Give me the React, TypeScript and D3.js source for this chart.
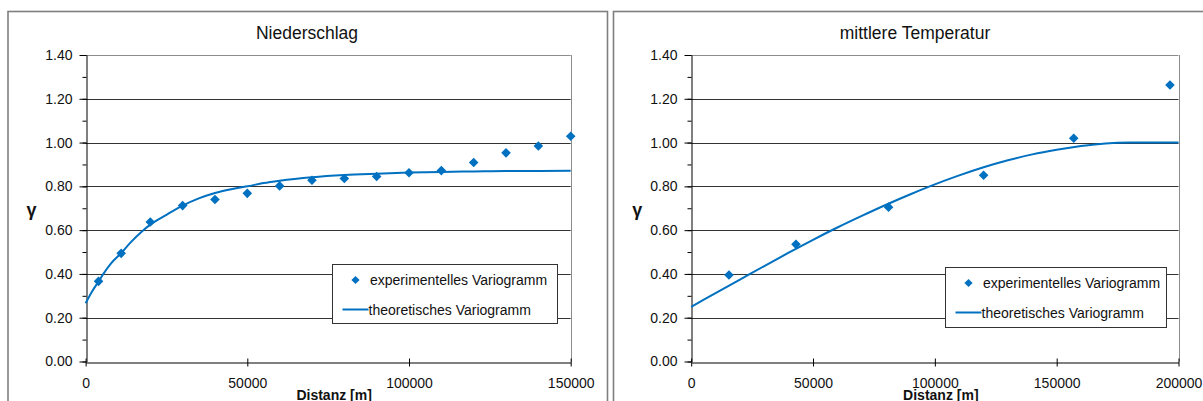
import { useEffect, useRef } from "react";
import * as d3 from "d3";

// Niederschlag (precipitation)
const niederschlagExpX = [
  4000, 11000, 20000, 30000, 40000, 50000, 60000, 70000, 80000, 90000, 100000,
  110000, 120000, 130000, 140000, 150000,
];
const niederschlagExpY = [
  0.366, 0.494, 0.637, 0.712, 0.74, 0.768, 0.802, 0.828, 0.836, 0.845, 0.862,
  0.872, 0.909, 0.953, 0.984, 1.029,
];
const niederschlagTheoX = [
  0, 2000, 4000, 5500, 8000, 11000, 14000, 17500, 20000, 25000, 30000, 35000,
  40000, 45000, 50000, 55000, 60000, 70000, 80000, 90000, 100000, 110000,
  120000, 130000, 140000, 150000,
];
const niederschlagTheoY = [
  0.266, 0.32, 0.365, 0.4, 0.45, 0.495, 0.545, 0.595, 0.625, 0.67, 0.712,
  0.745, 0.77, 0.787, 0.8, 0.815, 0.826, 0.842, 0.852, 0.858, 0.863, 0.866,
  0.868, 0.87, 0.87, 0.871,
];

// mittlere Temperatur (mean temperature)
const temperaturExpX = [15500, 43000, 81000, 120000, 157000, 196500];
const temperaturExpY = [0.395, 0.535, 0.705, 0.851, 1.02, 1.263];
const temperaturTheoX = [
  0, 10000, 20000, 30000, 40000, 50000, 60000, 70000, 80000, 90000, 100000,
  110000, 120000, 130000, 140000, 150000, 160000, 170000, 180000, 190000,
  200000,
];
const temperaturTheoY = [
  0.25, 0.312, 0.374, 0.436, 0.497, 0.556, 0.612, 0.665, 0.716, 0.764, 0.809,
  0.85, 0.887, 0.919, 0.946, 0.967, 0.984, 0.996, 1.0, 1.0, 1.0,
];

const yTicks = [0, 0.2, 0.4, 0.6, 0.8, 1.0, 1.2, 1.4];
const yMinorTicks = d3.range(0, 1.41, 0.1);

const FONT = "Arial, 'Liberation Sans', sans-serif";
const BLUE = "#0070c0";

interface PanelSpec {
  title: string;
  expX: number[];
  expY: number[];
  theoX: number[];
  theoY: number[];
  xMax: number;
  xTicks: number[];
  frameX: number;
  frameW: number;
  titleX: number;
  left: number;
  right: number;
  legend: { x: number; y: number; w: number; h: number };
}

const panels: PanelSpec[] = [
  {
    title: "Niederschlag",
    expX: niederschlagExpX,
    expY: niederschlagExpY,
    theoX: niederschlagTheoX,
    theoY: niederschlagTheoY,
    xMax: 150000,
    xTicks: [0, 50000, 100000, 150000],
    frameX: 8,
    frameW: 599.5,
    titleX: 307,
    left: 85.6,
    right: 570.7,
    legend: { x: 332.5, y: 264.5, w: 225, h: 59 },
  },
  {
    title: "mittlere Temperatur",
    expX: temperaturExpX,
    expY: temperaturExpY,
    theoX: temperaturTheoX,
    theoY: temperaturTheoY,
    xMax: 200000,
    xTicks: [0, 50000, 100000, 150000, 200000],
    frameX: 613.5,
    frameW: 700,
    titleX: 915,
    left: 691.2,
    right: 1178.5,
    legend: { x: 945.5, y: 267.5, w: 221, h: 60 },
  },
];

const TOP = 55;
const BOTTOM = 361.5;

export default function App() {
  const svgRef = useRef<SVGSVGElement>(null);

  useEffect(() => {
    if (!svgRef.current) return;
    const svg = d3.select(svgRef.current);
    svg.selectAll("*").remove();

    svg.append("rect").attr("width", 1203).attr("height", 401).attr("fill", "#fff");

    panels.forEach((p) => {
      const g = svg.append("g");

      // chart frame
      g.append("rect")
        .attr("x", p.frameX)
        .attr("y", 11.5)
        .attr("width", p.frameW)
        .attr("height", 500)
        .attr("fill", "none")
        .attr("stroke", "#7f7f7f")
        .attr("stroke-width", 1.6);

      const x = d3.scaleLinear().domain([0, p.xMax]).range([p.left, p.right]);
      const y = d3.scaleLinear().domain([0, 1.4]).range([BOTTOM, TOP]);

      // title
      g.append("text")
        .attr("x", p.titleX)
        .attr("y", 39)
        .attr("text-anchor", "middle")
        .attr("font-family", FONT)
        .attr("font-size", 17.5)
        .attr("fill", "#111")
        .text(p.title);

      // grid lines
      g.append("g")
        .selectAll("line")
        .data(yTicks.filter((t) => t > 0))
        .join("line")
        .attr("x1", p.left)
        .attr("x2", p.right)
        .attr("y1", (d) => Math.round(y(d)) + 0.5)
        .attr("y2", (d) => Math.round(y(d)) + 0.5)
        .attr("stroke", (d) => (d >= 1.4 ? "#8c8c8c" : "#333"))
        .attr("stroke-width", 1);

      // right border of plot area
      g.append("line")
        .attr("x1", Math.round(p.right) + 0.5)
        .attr("x2", Math.round(p.right) + 0.5)
        .attr("y1", TOP)
        .attr("y2", BOTTOM)
        .attr("stroke", "#8c8c8c");

      // minor y ticks
      g.append("g")
        .attr("transform", `translate(${Math.round(p.left) + 0.5},0)`)
        .call(d3.axisLeft(y).tickValues(yMinorTicks).tickSize(4).tickFormat(() => ""))
        .call((a) => a.select(".domain").remove())
        .call((a) => a.selectAll(".tick line").attr("stroke", "#000"));

      // y axis
      g.append("g")
        .attr("transform", `translate(${Math.round(p.left) + 0.5},0)`)
        .call(
          d3
            .axisLeft(y)
            .tickValues(yTicks)
            .tickSize(7)
            .tickSizeOuter(0)
            .tickPadding(7)
            .tickFormat((d) => d3.format(".2f")(d as number))
        )
        .call((a) => a.select(".domain").attr("stroke", "#000"))
        .call((a) => a.selectAll(".tick line").attr("stroke", "#000"))
        .call((a) =>
          a
            .selectAll(".tick text")
            .attr("font-family", FONT)
            .attr("font-size", 14)
            .attr("fill", "#111")
        );

      // x axis
      g.append("g")
        .attr("transform", `translate(0,${Math.round(BOTTOM) + 0.5})`)
        .call(
          d3
            .axisBottom(x)
            .tickValues(p.xTicks)
            .tickSize(4)
            .tickSizeOuter(0)
            .tickPadding(12)
            .tickFormat((d) => d3.format("d")(d as number))
        )
        .call((a) => a.select(".domain").attr("stroke", "#000"))
        .call((a) => a.selectAll(".tick line").attr("stroke", "#000").attr("y1", -4))
        .call((a) =>
          a
            .selectAll(".tick text")
            .attr("font-family", FONT)
            .attr("font-size", 14)
            .attr("fill", "#111")
        );

      // axis titles
      g.append("text")
        .attr("x", (p.left + p.right) / 2 + 6)
        .attr("y", 400)
        .attr("text-anchor", "middle")
        .attr("font-family", FONT)
        .attr("font-size", 14)
        .attr("font-weight", "bold")
        .attr("fill", "#111")
        .text("Distanz [m]");

      g.append("text")
        .attr("x", p.left - 54)
        .attr("y", 216)
        .attr("text-anchor", "middle")
        .attr("font-family", FONT)
        .attr("font-size", 18)
        .attr("font-weight", "bold")
        .attr("fill", "#111")
        .text("γ");

      // theoretical variogram
      const theo = p.theoX.map((v, i) => [v, p.theoY[i]] as [number, number]);
      g.append("path")
        .datum(theo)
        .attr(
          "d",
          d3
            .line<[number, number]>()
            .x((d) => x(d[0]))
            .y((d) => y(d[1]))
            .curve(d3.curveMonotoneX)
        )
        .attr("fill", "none")
        .attr("stroke", BLUE)
        .attr("stroke-width", 2);

      // experimental variogram
      const diamond = d3.symbol(d3.symbolSquare, 46);
      g.append("g")
        .selectAll("path")
        .data(p.expX.map((v, i) => [v, p.expY[i]] as [number, number]))
        .join("path")
        .attr("d", diamond)
        .attr("transform", (d) => `translate(${x(d[0])},${y(d[1])}) rotate(45)`)
        .attr("fill", BLUE);

      // legend
      const lg = g.append("g").attr("transform", `translate(${p.legend.x},${p.legend.y})`);
      lg.append("rect")
        .attr("width", p.legend.w)
        .attr("height", p.legend.h)
        .attr("fill", "#fff")
        .attr("stroke", "#333")
        .attr("stroke-width", 1);
      lg.append("path")
        .attr("d", d3.symbol(d3.symbolSquare, 34))
        .attr("transform", `translate(${23},${15.5}) rotate(45)`)
        .attr("fill", BLUE);
      lg.append("text")
        .attr("x", 37.5)
        .attr("y", 20.5)
        .attr("font-family", FONT)
        .attr("font-size", 14)
        .attr("fill", "#111")
        .text("experimentelles Variogramm");
      lg.append("line")
        .attr("x1", 10)
        .attr("x2", 36)
        .attr("y1", 45)
        .attr("y2", 45)
        .attr("stroke", BLUE)
        .attr("stroke-width", 2);
      lg.append("text")
        .attr("x", 36)
        .attr("y", 50)
        .attr("font-family", FONT)
        .attr("font-size", 14)
        .attr("fill", "#111")
        .text("theoretisches Variogramm");
    });
  }, []);

  return (
    <svg
      ref={svgRef}
      width={1203}
      height={401}
      style={{ position: "absolute", left: 0, top: 0 }}
    />
  );
}
